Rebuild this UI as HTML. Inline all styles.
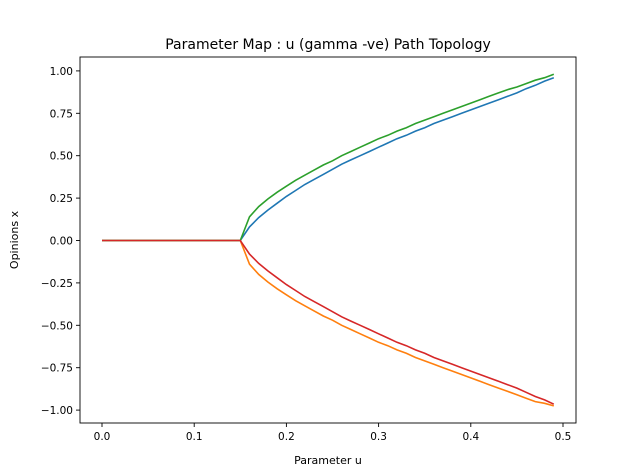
<!DOCTYPE html>
<html><head><meta charset="utf-8"><style>
body{margin:0;background:#fff;}
svg{display:block;font-family:"DejaVu Sans","Liberation Sans",sans-serif;}
</style></head><body>
<svg id="chart" width="640" height="476"></svg>
<script>
const uVals = [];
const zeros = [0,0,0,0,0,0,0,0,0,0,0,0,0,0,0];
const blueBranch = [0,0.08,0.135,0.18,0.22,0.26,0.295,0.33,0.36,0.39,0.42,0.45,0.475,0.50,0.525,0.55,0.575,0.60,0.62,0.645,0.665,0.69,0.71,0.73,0.75,0.77,0.79,0.81,0.83,0.85,0.87,0.895,0.915,0.94,0.96];
const greenBranch = [0,0.14,0.20,0.245,0.285,0.32,0.355,0.385,0.415,0.445,0.47,0.50,0.525,0.55,0.575,0.60,0.62,0.645,0.665,0.69,0.71,0.73,0.75,0.77,0.79,0.81,0.83,0.85,0.87,0.89,0.905,0.925,0.945,0.96,0.98];
const orangeBranch = [0,-0.14,-0.20,-0.245,-0.285,-0.32,-0.355,-0.385,-0.415,-0.445,-0.47,-0.50,-0.525,-0.55,-0.575,-0.60,-0.62,-0.645,-0.665,-0.69,-0.71,-0.73,-0.75,-0.77,-0.79,-0.81,-0.83,-0.85,-0.87,-0.89,-0.91,-0.93,-0.95,-0.96,-0.975];
const redBranch = [0,-0.08,-0.135,-0.18,-0.22,-0.26,-0.295,-0.33,-0.36,-0.39,-0.42,-0.45,-0.475,-0.50,-0.525,-0.55,-0.575,-0.60,-0.62,-0.645,-0.665,-0.69,-0.71,-0.73,-0.75,-0.77,-0.79,-0.81,-0.83,-0.85,-0.87,-0.895,-0.92,-0.94,-0.965];
const xTicks = [0.0,0.1,0.2,0.3,0.4,0.5];
const xTickLabels = ["0.0","0.1","0.2","0.3","0.4","0.5"];
const yTicks = [1,0.75,0.5,0.25,0,-0.25,-0.5,-0.75,-1];
const yTickLabels = ["1.00","0.75","0.50","0.25","0.00","−0.25","−0.50","−0.75","−1.00"];

for(let i=0;i<50;i++) uVals.push(i/100);
const svg=document.getElementById('chart');
const NS='http://www.w3.org/2000/svg';
const L=80,R=576,T=57,B=423;
const X=v=>102+v*922;
const Y=v=>240.5-v*169.6;
function mk(tag,attrs,parent){const e=document.createElementNS(NS,tag);for(const k in attrs)e.setAttribute(k,attrs[k]);(parent||svg).appendChild(e);return e;}

const title=mk('text',{x:328,y:49,'text-anchor':'middle','font-size':14});
title.textContent='Parameter Map : u (gamma -ve) Path Topology';



function series(vals,color,name){
  const full = zeros.concat(vals);
  const pts=full.map((v,i)=>X(uVals[i]).toFixed(1)+','+Y(v).toFixed(1)).join(' ');
  const p=mk('polyline',{points:pts,fill:'none',stroke:color,'stroke-width':1.6});
  
  
}
series(blueBranch,'#1f77b4','series-blue');
series(orangeBranch,'#ff7f0e','series-orange');
series(greenBranch,'#2ca02c','series-green');
series(redBranch,'#d62728','series-red');

const frame=mk('rect',{x:L,y:T,width:R-L,height:B-T,fill:'none',stroke:'#000','stroke-width':0.9});



xTicks.forEach((t,i)=>{
  mk('line',{x1:X(t),x2:X(t),y1:B,y2:B+4,stroke:'#000','stroke-width':0.9});
  const tx=mk('text',{x:X(t),y:B+17,'text-anchor':'middle','font-size':10.5});
  tx.textContent=xTickLabels[i];
  
  
});
yTicks.forEach((t,i)=>{
  mk('line',{x1:L-4,x2:L,y1:Y(t),y2:Y(t),stroke:'#000','stroke-width':0.9});
  const tx=mk('text',{x:L-7,y:Y(t)+4,'text-anchor':'end','font-size':10.5});
  tx.textContent=yTickLabels[i];
  
  
});
const xl=mk('text',{x:328,y:464,'text-anchor':'middle','font-size':11});
xl.textContent='Parameter u';


const yl=mk('text',{x:0,y:0,'text-anchor':'middle','font-size':11,transform:'translate(18,240) rotate(-90)'});
yl.textContent='Opinions x';


</script>
</body></html>
